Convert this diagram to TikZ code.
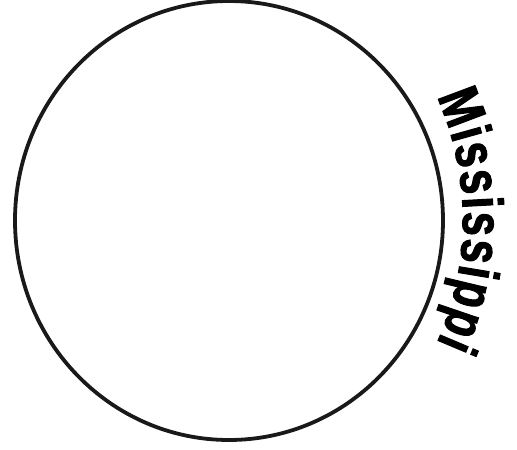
\documentclass[tikz,border=0pt]{standalone}
\usepackage{fontspec}
\newfontfamily\cfont[FakeStretch=0.76, FakeBold=1.8]{Liberation Sans Bold}
\usetikzlibrary{shapes.geometric,decorations.text}
\tikzset{
  ringstyle/.style={draw=black!90, line width=3.8pt, ellipse, inner sep=0pt, outer sep=0pt},
  labelfont/.style={decoration={text along path,
      text={|\cfont\fontsize{57pt}{62pt}\selectfont|Mississippi},
      text align=fit to path}}
}
\begin{document}
\begin{tikzpicture}[x=1pt,y=-1pt]
\useasboundingbox (0,0) rectangle (517,450);
\node (ring) [ringstyle, minimum width=428pt, minimum height=439pt] at (229,220.5) {};
\coordinate (arcc) at (160,220);
\path[decorate, labelfont] (arcc) ++(-24:303) arc[start angle=-24, end angle=24, radius=303];
\end{tikzpicture}
\end{document}
